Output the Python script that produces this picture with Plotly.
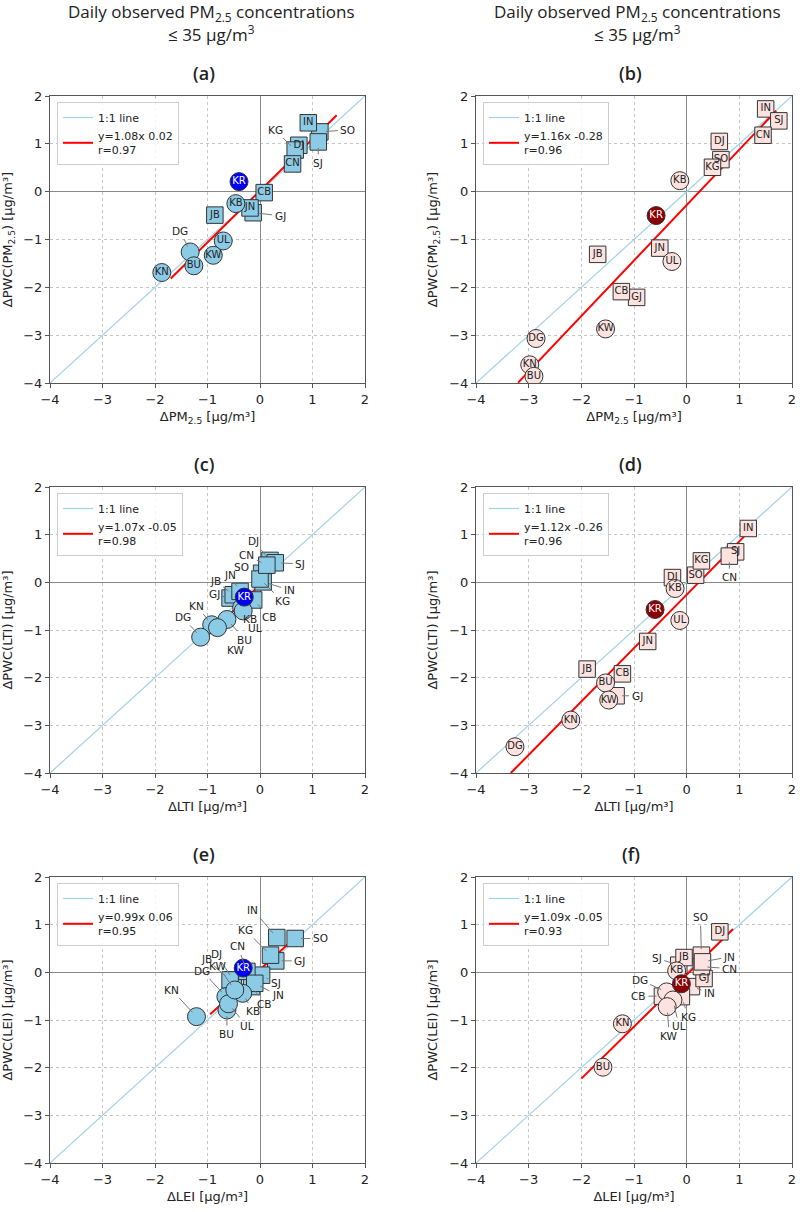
import plotly.graph_objects as go

CITIES = ["SO", "IN", "GJ", "DJ", "SJ", "KG", "CB", "CN", "JB", "JN", "KB", "KN", "DG", "BU", "UL", "KW", "KR"]
CIRCLE_CITIES = ["KN", "DG", "BU", "UL", "KW", "KB", "KR"]

# panel (a): dPM2.5 vs dPWC(PM2.5), left group
A_X = [1.14, 0.92, -0.13, 0.74, 1.11, 0.67, 0.08, 0.62, -0.86, -0.19, -0.46, -1.87, -1.33, -1.26, -0.70, -0.89, -0.40]
A_Y = [1.25, 1.44, -0.44, 0.97, 1.04, 0.87, -0.02, 0.58, -0.49, -0.34, -0.25, -1.69, -1.26, -1.55, -1.03, -1.33, 0.21]
# panel (b)
B_X = [0.65, 1.50, -0.95, 0.62, 1.75, 0.49, -1.24, 1.45, -1.69, -0.51, -0.13, -2.98, -2.86, -2.90, -0.28, -1.54, -0.58]
B_Y = [0.67, 1.73, -2.21, 1.05, 1.48, 0.51, -2.09, 1.18, -1.31, -1.18, 0.23, -3.62, -3.07, -3.86, -1.46, -2.87, -0.50]
# panel (c): dLTI vs dPWC(LTI)
C_X = [0.03, 0.06, -0.57, 0.19, 0.29, 0.00, -0.12, 0.13, -0.51, -0.38, -0.35, -0.92, -1.13, -0.63, -0.32, -0.81, -0.30]
C_Y = [0.19, 0.01, -0.33, 0.46, 0.41, 0.07, -0.37, 0.36, -0.26, -0.19, -0.53, -0.89, -1.15, -0.78, -0.60, -0.95, -0.31]
# panel (d)
D_X = [0.17, 1.17, -1.34, -0.27, 0.93, 0.28, -1.22, 0.81, -1.89, -0.74, -0.22, -2.20, -3.26, -1.54, -0.13, -1.48, -0.60]
D_Y = [0.15, 1.13, -2.38, 0.10, 0.64, 0.45, -1.92, 0.55, -1.82, -1.24, -0.13, -2.89, -3.45, -2.11, -0.80, -2.47, -0.57]
# panel (e): dLEI vs dPWC(LEI)
E_X = [0.67, 0.32, 0.30, -0.51, 0.03, 0.20, -0.16, -0.25, -0.57, -0.10, -0.33, -1.21, -0.65, -0.63, -0.60, -0.48, -0.32]
E_Y = [0.71, 0.73, 0.24, -0.16, -0.06, 0.36, -0.30, 0.02, -0.16, -0.23, -0.44, -0.93, -0.51, -0.79, -0.66, -0.37, 0.09]
# panel (f)
F_X = [0.28, 0.09, 0.33, 0.63, -0.15, -0.10, -0.46, 0.28, -0.05, 0.30, -0.19, -1.22, -0.38, -1.59, -0.26, -0.37, -0.10]
F_Y = [0.36, -0.30, -0.13, 0.85, 0.15, -0.51, -0.50, 0.12, 0.31, 0.22, 0.03, -1.08, -0.41, -1.99, -0.58, -0.72, -0.24]

SLOPES = [1.08, 1.16, 1.07, 1.12, 0.99, 1.09]
INTERCEPTS = [0.02, -0.28, -0.05, -0.26, 0.06, -0.05]
FIT_LABELS = ["y=1.08x 0.02", "y=1.16x -0.28", "y=1.07x -0.05", "y=1.12x -0.26", "y=0.99x 0.06", "y=1.09x -0.05"]
R_VALUES = ["0.97", "0.96", "0.98", "0.96", "0.95", "0.93"]
FIT_XMIN = [-1.70, -3.20, -1.18, -3.34, -0.95, -2.00]
FIT_XMAX = [1.46, 1.70, 0.35, 1.20, 0.76, 0.88]

PANEL_LETTERS = ["(a)", "(b)", "(c)", "(d)", "(e)", "(f)"]
X_TITLES = ["ΔPM<sub>2.5</sub> [μg/m³]", "ΔPM<sub>2.5</sub> [μg/m³]", "ΔLTI [μg/m³]", "ΔLTI [μg/m³]", "ΔLEI [μg/m³]", "ΔLEI [μg/m³]"]
Y_TITLES = ["ΔPWC(PM<sub>2.5</sub>) [μg/m³]", "ΔPWC(PM<sub>2.5</sub>) [μg/m³]", "ΔPWC(LTI) [μg/m³]", "ΔPWC(LTI) [μg/m³]", "ΔPWC(LEI) [μg/m³]", "ΔPWC(LEI) [μg/m³]"]
TICKS = [-4, -3, -2, -1, 0, 1, 2]
TICK_TEXT = ["−4", "−3", "−2", "−1", "0", "1", "2"]
HEADER_1 = "Daily observed PM<sub>2.5</sub> concentrations"
HEADER_2 = "≤ 35 μg/m<sup>3</sup>"

PANELS_X = [A_X, B_X, C_X, D_X, E_X, F_X]
PANELS_Y = [A_Y, B_Y, C_Y, D_Y, E_Y, F_Y]

# label offsets (pixels) for labels drawn outside their markers, per panel
LABEL_OFFSETS = [
    {"KG": (-20, -20), "SO": (28, -2), "SJ": (0, 21), "GJ": (27, 3), "DG": (-10, -21)},
    {},
    {"SJ": (25, 1), "DJ": (-16, -19), "CN": (-20, -10), "SO": (-20, -6), "IN": (26, 8),
     "KG": (22, 22), "JN": (-10, -16), "JB": (-18, -14), "GJ": (-16, -4), "CB": (16, 17),
     "KB": (8, 11), "UL": (12, 17), "BU": (18, 20), "KW": (19, 22), "KN": (-15, -19), "DG": (-18, -20)},
    {"CN": (0, 21), "GJ": (21, 0)},
    {"SO": (25, 0), "IN": (-24, -28), "KG": (-25, -25), "GJ": (24, 0), "SJ": (14, 8),
     "JN": (23, 12), "CB": (13, 17), "CN": (-9, -25), "DJ": (-17, -26), "JB": (-24, -21),
     "KW": (-17, -24), "DG": (-24, -26), "KB": (10, 18), "UL": (18, 22), "BU": (0, 24), "KN": (-25, -27)},
    {"SO": (-1, -38), "JN": (27, -5), "CN": (28, 2), "SJ": (-22, -7), "IN": (18, 6),
     "DG": (-27, -12), "CB": (-24, 0), "KG": (7, 20), "UL": (6, 26), "KW": (2, 29)},
]

W, H = 800, 1212
COL_PX = [(50, 365), (476, 792)]
ROW_PX = [(96, 383), (487, 773), (877, 1163)]

FONT = "DejaVu Sans"
HEAD_FONT = "Open Sans"

fig = go.Figure()
layout = dict(
    width=W, height=H, margin=dict(l=0, r=0, t=0, b=0),
    paper_bgcolor="white", plot_bgcolor="white", showlegend=True,
    font=dict(family=FONT, size=13, color="#222"),
)
annotations = []

for i in range(6):
    r, c = divmod(i, 2)
    sfx = "" if i == 0 else str(i + 1)
    xa, ya = "x" + sfx, "y" + sfx
    leg = "legend" + sfx
    left = c == 0
    x0, x1 = COL_PX[c]
    y0, y1 = ROW_PX[r]

    face = "#8ccbe6" if left else "#fce3e0"
    kr_face = "#0000f5" if left else "#8b0000"

    # 1:1 line
    fig.add_trace(go.Scatter(x=[-4, 2], y=[-4, 2], mode="lines", name="1:1 line",
                             line=dict(color="#9fd2e6", width=1.2), xaxis=xa, yaxis=ya,
                             legend=leg, hoverinfo="skip"))
    # fit line
    fx = [FIT_XMIN[i], FIT_XMAX[i]]
    fy = [SLOPES[i] * v + INTERCEPTS[i] for v in fx]
    fig.add_trace(go.Scatter(x=fx, y=fy, mode="lines",
                             name=FIT_LABELS[i] + "<br>r=" + R_VALUES[i],
                             line=dict(color="#ff0000", width=2), xaxis=xa, yaxis=ya,
                             legend=leg, hoverinfo="skip"))

    offs = LABEL_OFFSETS[i]
    px_, py_ = PANELS_X[i], PANELS_Y[i]
    # squares first, then circles, KR last
    order = [k for k, n in enumerate(CITIES) if n not in CIRCLE_CITIES] + \
            [k for k, n in enumerate(CITIES) if n in CIRCLE_CITIES and n != "KR"] + \
            [CITIES.index("KR")]
    xs = [px_[k] for k in order]
    ys = [py_[k] for k in order]
    names = [CITIES[k] for k in order]
    symbols = ["circle" if n in CIRCLE_CITIES else "square" for n in names]
    sizes = [18 if n in CIRCLE_CITIES else 16.5 for n in names]
    colors = [kr_face if n == "KR" else face for n in names]
    fig.add_trace(go.Scatter(x=xs, y=ys, mode="markers",
                             marker=dict(symbol=symbols, size=sizes, color=colors, opacity=1,
                                         line=dict(color="#333", width=1)),
                             xaxis=xa, yaxis=ya, showlegend=False, hoverinfo="skip"))
    inside = [j for j, n in enumerate(names) if n not in offs]
    fig.add_trace(go.Scatter(x=[xs[j] for j in inside], y=[ys[j] for j in inside], mode="text",
                             text=[names[j] for j in inside], textposition="middle center",
                             textfont=dict(family=FONT, size=10,
                                           color=["white" if names[j] == "KR" else "#222" for j in inside]),
                             xaxis=xa, yaxis=ya, showlegend=False, hoverinfo="skip"))
    for n, (ax, ay) in offs.items():
        k = CITIES.index(n)
        annotations.append(dict(x=px_[k], y=py_[k], xref=xa, yref=ya, text=n,
                                showarrow=True, arrowhead=0, arrowwidth=1, arrowcolor="#777",
                                ax=ax, ay=ay, standoff=6, startstandoff=1,
                                font=dict(family=FONT, size=10.5, color="#222")))

    axis_common = dict(range=[-4, 2], tickvals=TICKS, ticktext=TICK_TEXT,
                       showgrid=True, gridcolor="#c4c4c4", griddash="dot", gridwidth=1,
                       zeroline=True, zerolinecolor="#8a8a8a", zerolinewidth=1.2,
                       showline=True, linecolor="#555", linewidth=1.2, mirror=True,
                       ticks="outside", ticklen=4, tickcolor="#555",
                       tickfont=dict(family=FONT, size=13, color="#222"),
                       automargin=False, fixedrange=True)
    layout["xaxis" + sfx] = dict(axis_common, domain=[x0 / W, x1 / W], anchor=ya,
                                 title=dict(text=X_TITLES[i], font=dict(family=FONT, size=13), standoff=6))
    layout["yaxis" + sfx] = dict(axis_common, domain=[1 - y1 / H, 1 - y0 / H], anchor=xa,
                                 title=dict(text=Y_TITLES[i], font=dict(family=FONT, size=13), standoff=8))
    layout[leg] = dict(x=(x0 + 7) / W, y=1 - (y0 + 6) / H, xanchor="left", yanchor="top",
                       bgcolor="rgba(255,255,255,0.85)", bordercolor="#cccccc", borderwidth=1,
                       font=dict(family=FONT, size=11, color="#222"),
                       itemwidth=30, tracegroupgap=0)

    annotations.append(dict(x=(x0 + x1) / 2 / W - 3.5 / W, y=1 - (y0 - 23) / H, xref="paper", yref="paper",
                            text=PANEL_LETTERS[i], showarrow=False, xanchor="center", yanchor="middle",
                            font=dict(family=HEAD_FONT, size=18, color="#222", weight=600)))
    if r == 0:
        cx = (x0 + x1) / 2 / W + 3.5 / W
        annotations.append(dict(x=cx, y=1 - 12 / H, xref="paper", yref="paper", text=HEADER_1,
                                showarrow=False, xanchor="center", yanchor="middle",
                                font=dict(family=HEAD_FONT, size=17, color="#222")))
        annotations.append(dict(x=cx, y=1 - 34 / H, xref="paper", yref="paper", text=HEADER_2,
                                showarrow=False, xanchor="center", yanchor="middle",
                                font=dict(family=HEAD_FONT, size=17, color="#222")))

layout["annotations"] = annotations
fig.update_layout(**layout)
fig.write_html("out.html")
